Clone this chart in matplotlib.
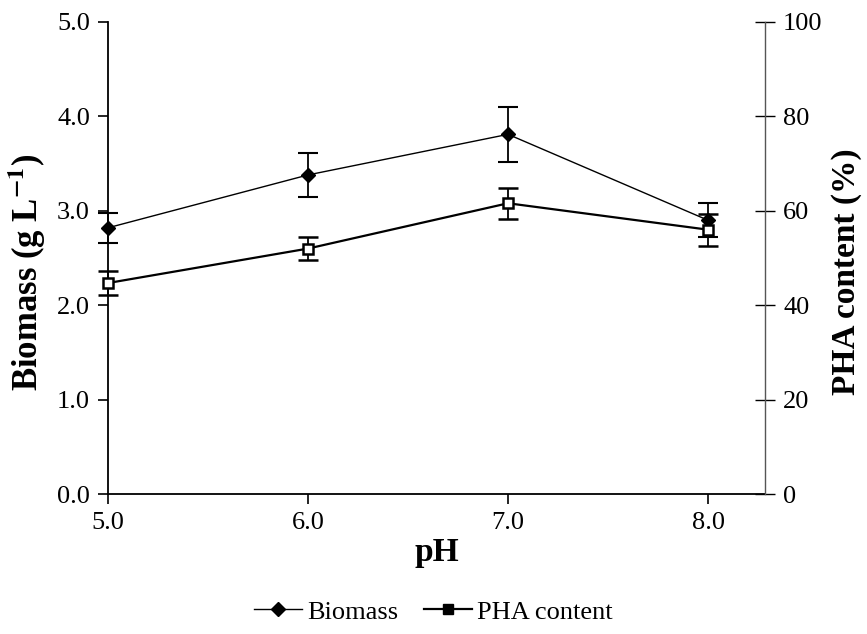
import matplotlib
matplotlib.use("Agg")
import matplotlib.pyplot as plt
from matplotlib.lines import Line2D
from matplotlib.ticker import FormatStrFormatter

plt.rcParams['font.family'] = ['Liberation Serif', 'DejaVu Serif']
plt.rcParams['mathtext.fontset'] = 'stix'

# pH series with biomass (g/L) and PHA content (%)
ph = [5.0, 6.0, 7.0, 8.0]
biomass = [2.82, 3.38, 3.81, 2.90]
biomass_err = [0.16, 0.235, 0.29, 0.18]
pha = [44.7, 52.0, 61.6, 56.0]
pha_err = [2.5, 2.5, 3.3, 3.4]

fig = plt.figure(figsize=(8.67, 6.34), dpi=100)
ax = fig.add_axes([0.1246, 0.2208, 0.7578, 0.7445])
ax2 = ax.twinx()

eb1 = ax.errorbar(ph, biomass, yerr=biomass_err, color='black', lw=1.0,
                  marker='D', ms=7, mfc='black', mec='black',
                  capsize=7, capthick=1.5, elinewidth=1.3)
eb2 = ax2.errorbar(ph, pha, yerr=pha_err, color='black', lw=1.6,
                   marker='s', ms=7, mfc='white', mec='black', mew=1.8,
                   capsize=7, capthick=1.5, elinewidth=1.3)
for eb in (eb1, eb2):
    for art in eb.get_children():
        art.set_clip_on(False)

ax.set_xlim(5.0, 8.285)
ax.set_ylim(0, 5.0)
ax2.set_ylim(0, 100)
ax.set_xticks(ph)
ax.set_yticks([0, 1, 2, 3, 4, 5])
ax2.set_yticks([0, 20, 40, 60, 80, 100])
ax.xaxis.set_major_formatter(FormatStrFormatter('%.1f'))
ax.yaxis.set_major_formatter(FormatStrFormatter('%.1f'))

for a in (ax, ax2):
    a.spines['top'].set_visible(False)
ax.spines['right'].set_visible(False)
ax2.spines['left'].set_visible(False)
ax2.spines['bottom'].set_visible(False)
ax2.spines['right'].set_color('#555555')
ax2.spines['right'].set_linewidth(1.0)
ax.spines['left'].set_linewidth(1.3)
ax.spines['bottom'].set_linewidth(1.3)

ax.tick_params(axis='both', direction='out', length=7, width=1.2,
               labelsize=19, pad=6)
ax2.tick_params(axis='y', direction='inout', length=14, width=1.0,
                labelsize=19, pad=6)

ax.set_xlabel('pH', fontsize=24, fontweight='bold', labelpad=2)
ax.set_ylabel(r'Biomass (g L$^{\mathbf{-1}}$)', fontsize=25,
              fontweight='bold')
ax2.set_ylabel('PHA content (%)', fontsize=24, fontweight='bold')
ax.yaxis.set_label_coords(-0.092, 0.47)
ax2.yaxis.set_label_coords(1.1, 0.47)

handles = [
    Line2D([], [], color='black', lw=1.0, marker='D', ms=7, mfc='black'),
    Line2D([], [], color='black', lw=1.6, marker='s', ms=7, mfc='black'),
]
fig.legend(handles, ['Biomass', 'PHA content'], loc='center',
           bbox_to_anchor=(0.5, 0.035), ncol=2, frameon=False,
           fontsize=19, handlelength=1.8, handletextpad=0.2,
           columnspacing=1.0)

fig.savefig('out.png', dpi=100)
